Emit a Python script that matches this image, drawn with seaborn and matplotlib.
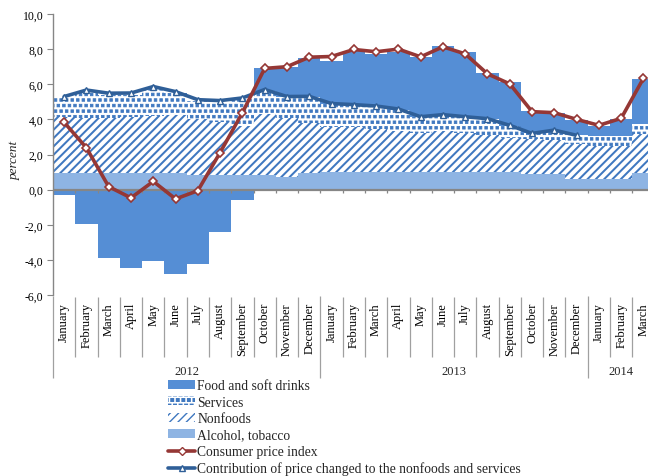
import numpy as np
import pandas as pd
import matplotlib
matplotlib.use("Agg")
import matplotlib.pyplot as plt
import matplotlib.hatch as mhatch
from matplotlib.path import Path
import seaborn as sns
from matplotlib.patches import Patch
from matplotlib.lines import Line2D

# ---------------- data ----------------
months = ["January", "February", "March", "April", "May", "June", "July",
          "August", "September", "October", "November", "December",
          "January", "February", "March", "April", "May", "June", "July",
          "August", "September", "October", "November", "December",
          "January", "February", "March"]
years = ["2012", "2013", "2014"]
year_lengths = [12, 12, 3]

alcohol = [0.95, 0.95, 0.95, 0.95, 0.95, 0.95, 0.82, 0.82, 0.82, 0.82, 0.72, 0.95,
           1.02, 1.02, 1.02, 1.02, 1.02, 1.02, 1.02, 1.02, 1.02, 0.90, 0.90, 0.62,
           0.62, 0.62, 0.95]
nonfoods = [3.20, 3.15, 3.11, 3.18, 3.27, 3.30, 3.18, 3.05, 2.83, 3.47, 3.38, 2.85,
            2.53, 2.56, 2.43, 2.33, 2.23, 2.31, 2.22, 2.07, 1.93, 1.96, 1.92, 1.95,
            1.86, 1.86, 2.19]
services = [1.05, 1.45, 1.34, 1.27, 1.53, 1.25, 1.05, 1.13, 1.50, 1.33, 1.15, 1.48,
            1.30, 1.22, 1.27, 1.20, 0.87, 0.92, 0.88, 0.91, 0.67, 0.34, 0.53, 0.53,
            0.59, 0.59, 0.57]
food = [-0.29, -1.96, -3.87, -4.48, -4.06, -4.80, -4.23, -2.42, -0.61, 1.30, 1.75, 2.22,
        2.50, 3.08, 3.00, 3.30, 3.43, 3.95, 3.73, 2.62, 2.48, 1.25, 1.00, 0.85,
        0.58, 0.93, 2.59]
cpi = [3.83, 2.38, 0.17, -0.47, 0.47, -0.53, -0.06, 2.11, 4.38, 6.90, 7.00, 7.54,
       7.58, 7.98, 7.85, 8.00, 7.56, 8.13, 7.73, 6.59, 6.02, 4.44, 4.38, 4.00,
       3.66, 4.06, 6.34]
contribution = [5.30, 5.67, 5.49, 5.50, 5.87, 5.58, 5.12, 5.07, 5.22, 5.70, 5.30, 5.31,
                4.90, 4.84, 4.76, 4.59, 4.15, 4.27, 4.15, 4.04, 3.66, 3.20, 3.39, 3.09]

series_labels = ["Food and soft drinks", "Services", "Nonfoods", "Alcohol, tobacco",
                 "Consumer price index",
                 "Contribution of price changed to the nonfoods and services"]


# ---------------- square "confetti" hatch for services ----------------
class SmallFilledSquares(mhatch.Shapes):
    size = 0.23
    filled = True

    def __init__(self, hatch, density):
        self.num_rows = hatch.count(".") * density
        self.shape_vertices = np.array([[-1, -1], [1, -1], [1, 1], [-1, 1], [-1, -1]], float)
        self.shape_codes = np.array([Path.MOVETO, Path.LINETO, Path.LINETO,
                                     Path.LINETO, Path.CLOSEPOLY], dtype=Path.code_type)
        super().__init__(hatch, density)


mhatch._hatch_types = [SmallFilledSquares if t is mhatch.SmallFilledCircles else t
                       for t in mhatch._hatch_types]

# ---------------- style ----------------
FOOD = "#558ED5"
ALC = "#8EB4E3"
HATCH = "#3F78C0"
RED = "#953735"
BLUE = "#2F5F98"
GRAY = "#868686"

sns.set_theme(style="white")
plt.rcParams["font.family"] = ["Liberation Serif", "DejaVu Serif"]
plt.rcParams["hatch.color"] = HATCH

W, H = 648, 477
fig = plt.figure(figsize=(W / 100, H / 100), dpi=100)
x_left, x_right = 53, 654.6
y_top, y_bot = 15, 296
ax = fig.add_axes([x_left / W, 1 - y_bot / H, (x_right - x_left) / W, (y_bot - y_top) / H])

n = len(months)
idx = np.arange(n)
alc = np.array(alcohol)
nf = np.array(nonfoods)
sv = np.array(services)
fd = np.array(food)
bottom_nf = alc
bottom_sv = alc + nf
bottom_fd = np.where(fd > 0, alc + nf + sv, 0.0)

HATCH_NF, HATCH_SV = "////", "..."
LW_NF, LW_SV = 1.45, 0.6


def stacked(values, bottom, face, hatch=None, hlw=1.0):
    plt.rcParams["hatch.linewidth"] = hlw
    sns.barplot(x=idx, y=values, bottom=bottom, width=1.0, ax=ax, color=face,
                saturation=1, errorbar=None, orient="x")
    cont = ax.containers[-1]
    for p in cont:
        p.set_facecolor(face)
        p.set_linewidth(0)
        p.set_zorder(2)
        if hatch:
            p.set_hatch(hatch)
            p.set_edgecolor(HATCH)
            if hasattr(p, "set_hatch_linewidth"):
                p.set_hatch_linewidth(hlw)
        else:
            p.set_edgecolor(face)


stacked(alc, 0, ALC)
stacked(nf, bottom_nf, "white", HATCH_NF, LW_NF)
stacked(sv, bottom_sv, "white", HATCH_SV, LW_SV)
stacked(fd, bottom_fd, FOOD)

# zero axis
ax.axhline(0, color=GRAY, lw=1.6, zorder=4)
bounds = idx[1:] - 0.5
ax.vlines(bounds, -0.22, 0, color=GRAY, lw=0.9, zorder=4)

# lines
sns.lineplot(x=idx, y=cpi, ax=ax, color=RED, lw=2.6, marker="D", markersize=4.5,
             markerfacecolor="white", markeredgecolor=RED, markeredgewidth=1.2,
             zorder=6)
sns.lineplot(x=idx[:len(contribution)], y=contribution, ax=ax, color=BLUE, lw=2.6,
             marker="^", markersize=5, markerfacecolor="white", markeredgecolor=BLUE,
             markeredgewidth=1.0, zorder=5)

ax.set_xlim(-0.5, n - 0.5)
ax.set_ylim(-6, 10)
yt = np.arange(-6, 11, 2)
ax.set_yticks(yt)
ax.set_yticklabels([f"{v:.1f}".replace(".", ",") for v in yt], fontsize=8.5)
ax.tick_params(axis="y", left=True, direction="out", length=4, width=0.8,
               color=GRAY, pad=3, labelcolor="black")
ax.set_xticks(idx)
ax.set_xticklabels(months, rotation=90, va="top", ha="center", fontsize=9)
ax.tick_params(axis="x", bottom=False, length=0, pad=5, labelcolor="black")
ax.set_xlabel("")
ax.set_ylabel("percent", style="italic", fontsize=9.5)
ax.yaxis.set_label_coords(-0.053, 0.484)

for s in ["top", "right", "bottom"]:
    ax.spines[s].set_visible(False)
ax.spines["left"].set_color(GRAY)
ax.spines["left"].set_linewidth(1.0)
ax.grid(False)


# category separators below the plot
def ypx(p):
    return (190 - p) / 17.5


year_bounds = np.cumsum(year_lengths)[:-1] - 0.5
month_bounds = [b for b in bounds if b not in year_bounds]
ax.vlines(month_bounds, ypx(297), ypx(357), color="#A0A0A0", lw=0.9, clip_on=False)
ax.vlines(list(year_bounds) + [-0.5], ypx(296), ypx(378), color="#A0A0A0", lw=0.9,
          clip_on=False)
start = -0.5
for yr, ln in zip(years, year_lengths):
    ax.text(start + ln / 2, ypx(371), yr, ha="center", va="center", fontsize=9)
    start += ln

p_sv = Patch(facecolor="white", edgecolor=HATCH, hatch=HATCH_SV, lw=0, label=series_labels[1])
p_nf = Patch(facecolor="white", edgecolor=HATCH, hatch=HATCH_NF, lw=0, label=series_labels[2])
for p, hlw in ((p_sv, LW_SV), (p_nf, LW_NF)):
    if hasattr(p, "set_hatch_linewidth"):
        p.set_hatch_linewidth(hlw)
handles = [
    Patch(facecolor=FOOD, edgecolor=FOOD, lw=0, label=series_labels[0]),
    p_sv, p_nf,
    Patch(facecolor=ALC, edgecolor=ALC, lw=0, label=series_labels[3]),
    Line2D([0], [0], color=RED, lw=2.6, marker="D", markersize=4.5,
           markerfacecolor="white", markeredgecolor=RED, label=series_labels[4]),
    Line2D([0], [0], color=BLUE, lw=2.6, marker="^", markersize=5,
           markerfacecolor="white", markeredgecolor=BLUE, label=series_labels[5]),
]
fig.legend(handles=handles, loc="upper left", bbox_to_anchor=(168 / W, 1 - 380 / H),
           frameon=False, fontsize=9.8, handlelength=2.0, handleheight=0.6,
           handletextpad=0.15, labelspacing=0.26, borderpad=0, borderaxespad=0)

fig.savefig("out.png", dpi=100)
